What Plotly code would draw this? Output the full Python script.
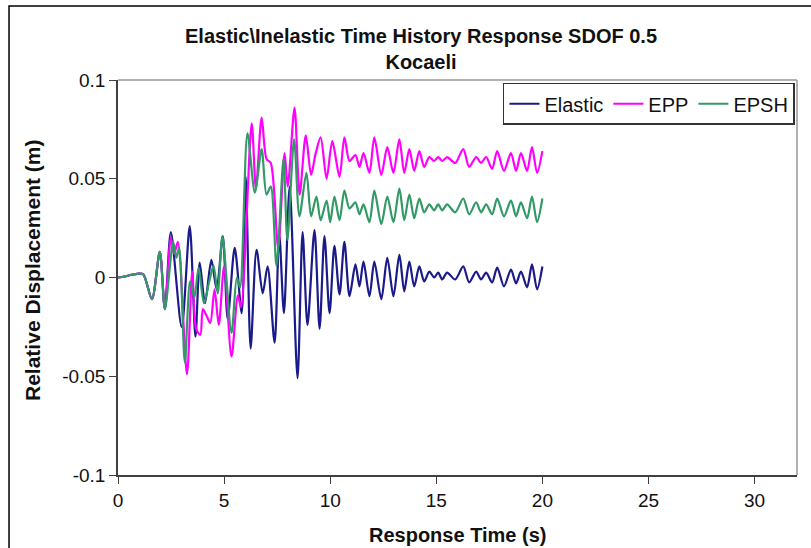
import plotly.graph_objects as go

# ---- data (time in s, displacement in m) ----
t_elastic = [0, 0.3, 0.7, 1.0, 1.2, 1.6, 1.97, 2.21, 2.49, 3.0, 3.38, 3.65, 3.85, 4.1, 4.4, 4.65,
             4.94, 5.17, 5.5, 5.83, 6.02, 6.25, 6.53, 6.82, 7.05, 7.38, 7.6, 7.82, 8.09, 8.46, 8.7,
             8.93, 9.26, 9.5, 9.73, 9.97, 10.2, 10.44, 10.67, 10.91, 11.19, 11.38, 11.57, 11.85,
             12.08, 12.41, 12.69, 12.98, 13.26, 13.49, 13.73, 13.96, 14.2, 14.43, 14.67, 14.9,
             15.09, 15.28, 15.51, 15.89, 16.27, 16.55, 16.88, 17.11, 17.35, 17.63, 17.87, 18.19,
             18.52, 18.76, 18.99, 19.28, 19.51, 19.75, 20.0]
d_elastic = [0, 0.0005, 0.0015, 0.002, 0.0015, -0.011, 0.013, -0.016, 0.023, -0.025, 0.026, -0.030,
             0.0076, -0.013, 0.009, -0.006, 0.021, -0.021, 0.015, -0.018, 0.051, -0.036, 0.014,
             -0.008, 0.0056, -0.033, 0.022, -0.018, 0.046, -0.051, 0.023, -0.024, 0.024, -0.026,
             0.021, -0.018, 0.016, -0.0086, 0.018, -0.0095, 0.0066, -0.0045, 0.008, -0.0095, 0.008,
             -0.011, 0.010, -0.0095, 0.0116, -0.007, 0.008, -0.0045, 0.0056, -0.002, 0.003, 0.0,
             0.0025, -0.001, 0.0025, -0.001, 0.0056, -0.0025, 0.003, -0.001, 0.0025, -0.0025, 0.005,
             -0.0045, 0.004, -0.003, 0.003, -0.005, 0.0066, -0.006, 0.0056]

t_epp = [0, 0.3, 0.7, 1.0, 1.2, 1.6, 1.97, 2.21, 2.49, 2.65, 2.82, 3.25, 3.5, 3.68, 3.88, 4.0, 4.2,
         4.35, 4.55, 4.75, 5.0, 5.35, 5.65, 5.8, 6.3, 6.5, 6.77, 7.0, 7.2, 7.55, 7.85, 8.0, 8.32,
         8.56, 8.85, 9.1, 9.3, 9.55, 9.83, 10.1, 10.44, 10.67, 10.91, 11.19, 11.38, 11.57, 11.85,
         12.08, 12.41, 12.69, 12.98, 13.26, 13.49, 13.73, 13.96, 14.2, 14.43, 14.67, 14.9, 15.09,
         15.28, 15.51, 15.89, 16.27, 16.55, 16.88, 17.11, 17.35, 17.63, 17.87, 18.19, 18.52,
         18.76, 18.99, 19.28, 19.51, 19.75, 20.0]
d_epp = [0, 0.0005, 0.0015, 0.002, 0.0015, -0.011, 0.013, -0.016, 0.020, 0.012, 0.018, -0.049,
         0.003, -0.026, -0.029, -0.016, -0.020, -0.023, -0.006, -0.024, 0.0056, -0.040, -0.009,
         -0.015, 0.078, 0.045, 0.081, 0.060, 0.058, 0.015, 0.063, 0.046, 0.086, 0.042, 0.072,
         0.052, 0.062, 0.071, 0.050, 0.069, 0.051, 0.071, 0.059, 0.062, 0.056, 0.063, 0.053,
         0.071, 0.052, 0.066, 0.053, 0.070, 0.053, 0.065, 0.054, 0.064, 0.056, 0.061, 0.059,
         0.061, 0.059, 0.061, 0.058, 0.065, 0.056, 0.061, 0.058, 0.061, 0.055, 0.064, 0.054,
         0.063, 0.054, 0.063, 0.054, 0.066, 0.053, 0.064]

t_epsh = [0, 0.3, 0.7, 1.0, 1.2, 1.6, 1.97, 2.21, 2.6, 2.75, 2.88, 3.15, 3.4, 3.6, 3.8, 4.05, 4.3,
          4.5, 4.7, 4.92, 5.35, 5.6, 5.75, 6.1, 6.45, 6.77, 7.0, 7.2, 7.47, 7.8, 7.98, 8.3, 8.55,
          8.88, 9.1, 9.35, 9.55, 9.83, 10.0, 10.2, 10.44, 10.67, 10.91, 11.19, 11.38, 11.57,
          11.85, 12.08, 12.41, 12.69, 12.98, 13.26, 13.49, 13.73, 13.96, 14.2, 14.43, 14.67,
          14.9, 15.09, 15.28, 15.51, 15.89, 16.27, 16.55, 16.88, 17.11, 17.35, 17.63, 17.87,
          18.19, 18.52, 18.76, 18.99, 19.28, 19.51, 19.75, 20.0]
d_epsh = [0, 0.0005, 0.0015, 0.002, 0.0015, -0.011, 0.013, -0.016, 0.018, 0.010, 0.015, -0.043,
          -0.002, -0.010, 0.005, -0.013, -0.002, 0.006, -0.008, 0.021, -0.028, 0.000, -0.005,
          0.073, 0.043, 0.065, 0.042, 0.046, 0.006, 0.060, 0.019, 0.070, 0.031, 0.053, 0.031,
          0.041, 0.029, 0.039, 0.028, 0.041, 0.029, 0.044, 0.035, 0.038, 0.032, 0.037, 0.028,
          0.044, 0.027, 0.041, 0.028, 0.045, 0.029, 0.042, 0.030, 0.040, 0.033, 0.037, 0.034,
          0.037, 0.034, 0.037, 0.033, 0.040, 0.032, 0.038, 0.033, 0.037, 0.032, 0.040, 0.031,
          0.039, 0.031, 0.038, 0.030, 0.041, 0.028, 0.040]

x_ticks = [0, 5, 10, 15, 20, 25, 30]
y_ticks = [-0.1, -0.05, 0, 0.05, 0.1]
y_tick_text = ["-0.1", "-0.05", "0", "0.05", "0.1"]

FONT = "Liberation Sans, Arial, sans-serif"

fig = go.Figure()
series = [("Elastic", t_elastic, d_elastic, "#1a1a8a"),
          ("EPP", t_epp, d_epp, "#ff00ff"),
          ("EPSH", t_epsh, d_epsh, "#339966")]
for name, t, d, c in series:
    fig.add_trace(go.Scatter(x=t, y=d, name=name, mode="lines",
                             line=dict(color=c, width=2.2, shape="spline", smoothing=0.8)))

fig.update_layout(
    width=811, height=548,
    margin=dict(l=118, r=14, t=80, b=73),
    plot_bgcolor="white", paper_bgcolor="white",
    font=dict(family=FONT, color="#111", size=19),
    showlegend=True,
    legend=dict(orientation="h", x=0.997, xanchor="right", y=0.993, yanchor="top",
                bordercolor="#333", borderwidth=1.5, bgcolor="white",
                font=dict(size=20, family=FONT, color="#111"),
                tracegroupgap=0, itemwidth=30),
    xaxis=dict(range=[0, 32], tickvals=x_ticks, showline=True, linecolor="#404040",
               linewidth=1.5, ticks="outside", ticklen=7, tickcolor="#404040",
               showgrid=False, zeroline=False, tickfont=dict(size=19)),
    yaxis=dict(range=[-0.1, 0.1], tickvals=y_ticks, ticktext=y_tick_text, showline=True,
               linecolor="#404040", linewidth=1.5, ticks="outside", ticklen=7,
               tickcolor="#404040", showgrid=False, zeroline=False, tickfont=dict(size=19)),
    shapes=[
        dict(type="line", xref="paper", yref="paper", x0=0, x1=1, y0=1, y1=1,
             line=dict(color="#999999", width=1.5)),
        dict(type="line", xref="paper", yref="paper", x0=1, x1=1, y0=0, y1=1,
             line=dict(color="#999999", width=1.5)),
        dict(type="rect", xref="paper", yref="paper", x0=-0.1605, x1=1.3, y0=-0.5, y1=1.1873,
             line=dict(color="#000000", width=1.5)),
    ],
    annotations=[
        dict(text="<b>Elastic\\Inelastic Time History Response SDOF 0.5<br>Kocaeli</b>",
             xref="paper", yref="paper", x=0.446, y=1.0797, xanchor="center", yanchor="middle",
             showarrow=False, font=dict(size=20, family=FONT, color="#111")),
        dict(text="<b>Response Time (s)</b>", xref="paper", yref="paper", x=0.5, y=-0.152,
             xanchor="center", yanchor="middle", showarrow=False,
             font=dict(size=20, family=FONT, color="#111")),
        dict(text="<b>Relative Displacement (m)</b>", xref="paper", yref="paper", x=-0.1252,
             y=0.519, xanchor="center", yanchor="middle", textangle=-90, showarrow=False,
             font=dict(size=21, family=FONT, color="#111")),
    ],
)

fig.write_html("out.html", config={"displayModeBar": False},
               post_script="document.body.style.margin='0px';")
